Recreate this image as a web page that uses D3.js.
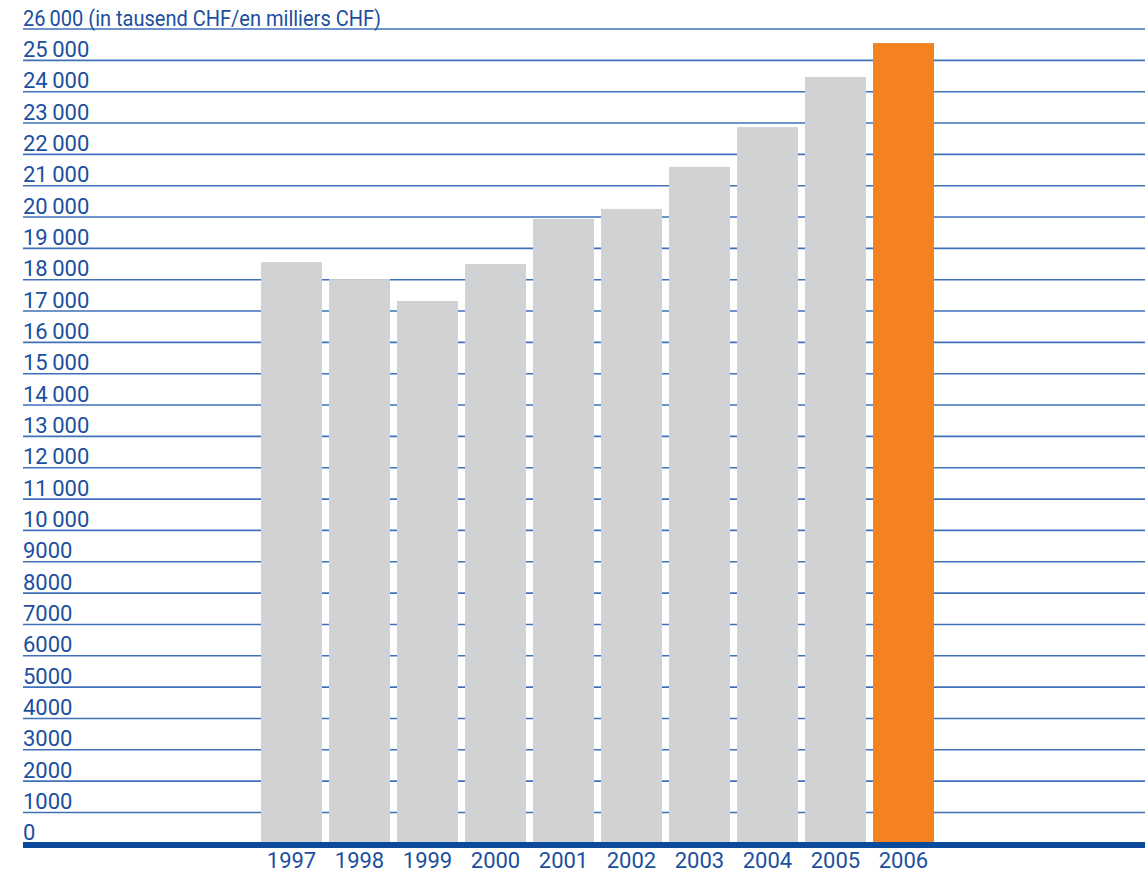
<!DOCTYPE html>
<html>
<head>
<meta charset="utf-8">
<script src="https://cdn.jsdelivr.net/npm/d3@7/dist/d3.min.js"></script>
<style>
  body { margin: 0; background: #fff; }
  svg { display: block; }
  text { font-family: Roboto, "Liberation Sans", sans-serif; fill: #1b4f9e; }
</style>
</head>
<body>
<svg id="chart" width="1145" height="875"></svg>
<script>
// values in thousand CHF
const years = ["1997", "1998", "1999", "2000", "2001", "2002", "2003", "2004", "2005", "2006"];
const values = [18560, 18020, 17320, 18500, 19940, 20260, 21600, 22870, 24470, 25550];
const highlightYear = "2006";
const unitLabel = "(in tausend CHF/en milliers CHF)";

let svg = d3.select('#chart'),
    width = +svg.attr("width"),
    left = 23;

let y = d3.scaleLinear()
    .domain([0, 26000])
    .range([843.8, 29]);

let x = d3.scaleBand()
    .domain(years)
    .range([257.5, 937.5])
    .paddingInner(7 / 68)
    .paddingOuter(0.0515);

let fmt = v => v >= 10000 ? d3.format(",")(v).replace(",", "\u2009") : String(v);

// grid lines
let ticks = y.ticks(26);
svg.append("g").selectAll("line").data(ticks)
    .enter().append("line")
    .attr("x1", left).attr("x2", width)
    .attr("y1", d => y(d)).attr("y2", d => y(d))
    .attr("stroke", "#3f71b8")
    .attr("stroke-width", 1.6);

// tick labels sit just above each grid line
let labels = svg.append("g").selectAll("text").data(ticks)
    .enter().append("text")
    .attr("x", left)
    .attr("y", d => y(d) - 3.5)
    .attr("font-size", 22)
    .text(d => d === 26000 ? fmt(d) + " " + unitLabel : fmt(d));

// the top label carries the unit, squeeze it to the original width
labels.filter(d => d === 26000)
    .attr("textLength", 358)
    .attr("lengthAdjust", "spacingAndGlyphs");

// bars
svg.append("g").selectAll("rect").data(years)
    .enter().append("rect")
    .attr("x", d => x(d))
    .attr("width", x.bandwidth())
    .attr("y", (d, i) => y(values[i]))
    .attr("height", (d, i) => y(0) - y(values[i]))
    .attr("fill", d => d === highlightYear ? "#f58220" : "#d1d2d4");

// thick base line
svg.append("line")
    .attr("x1", left).attr("x2", width)
    .attr("y1", 845).attr("y2", 845)
    .attr("stroke", "#0c4a9b")
    .attr("stroke-width", 6);

// year labels
svg.append("g").selectAll("text").data(years)
    .enter().append("text")
    .attr("x", d => x(d) + x.bandwidth() / 2)
    .attr("y", 868)
    .attr("text-anchor", "middle")
    .attr("font-size", 22)
    .text(d => d);
</script>
</body>
</html>
